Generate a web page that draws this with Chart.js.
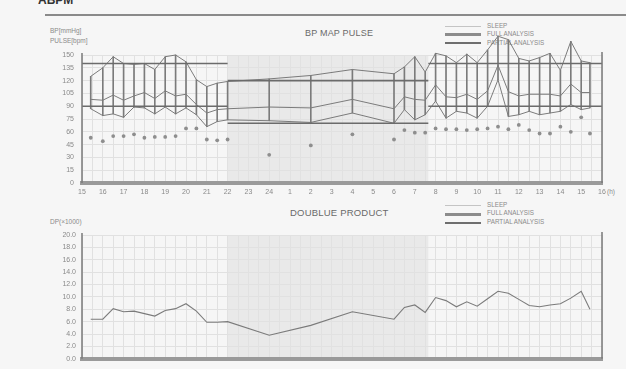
<!DOCTYPE html>
<html>
<head>
<meta charset="utf-8">
<script src="https://cdn.jsdelivr.net/npm/chart.js@4.4.1/dist/chart.umd.min.js"></script>
<style>
  html, body { margin: 0; padding: 0; }
  body {
    width: 626px; height: 369px; position: relative; overflow: hidden;
    background: #f6f6f6; color: #707070;
    font-family: "Liberation Sans", Arial, sans-serif;
  }
  canvas { position: absolute; left: 0; }
  #bpChart { top: 0; }
  #dpChart { top: 200px; }
  .txt { position: absolute; white-space: nowrap; line-height: 1; }
  .rule { position: absolute; }
  .head { font-weight: bold; color: #333; font-size: 12px; }
  .title { font-size: 9px; color: #6a6a6a; letter-spacing: 0.2px; }
  .unit { font-size: 6.5px; color: #8a8a8a; }
  .leg { font-size: 6.3px; color: #8a8a8a; }
</style>
</head>
<body>
<div class="txt head" style="left:38px; top:-6px;">ABPM</div>
<div class="rule" style="left:45px; top:14px; width:581px; height:1.5px; background:#8a8a8a;"></div>

<div class="txt unit" style="left:50px; top:28px;">BP[mmHg]</div>
<div class="txt unit" style="left:50px; top:38px;">PULSE[bpm]</div>
<div class="txt title" style="left:305px; top:29px;">BP MAP PULSE</div>

<div class="rule" style="left:445px; top:26px; width:36px; height:1px; background:#c4c4c4;"></div>
<div class="rule" style="left:445px; top:33px; width:36px; height:2.5px; background:#8c8c8c;"></div>
<div class="rule" style="left:445px; top:41.5px; width:36px; height:2px; background:#6e6e6e;"></div>
<div class="txt leg" style="left:487px; top:23px;">SLEEP</div>
<div class="txt leg" style="left:487px; top:31px;">FULL ANALYSIS</div>
<div class="txt leg" style="left:487px; top:39.5px;">PARTIAL ANALYSIS</div>
<div class="txt unit" style="left:607px; top:189px;">(h)</div>

<div class="txt unit" style="left:50px; top:219px;">DP(×1000)</div>
<div class="txt title" style="left:290px; top:208px; font-size:9.5px;">DOUBLUE PRODUCT</div>
<div class="rule" style="left:445px; top:205px; width:36px; height:1px; background:#c4c4c4;"></div>
<div class="rule" style="left:445px; top:213px; width:36px; height:2.5px; background:#8c8c8c;"></div>
<div class="rule" style="left:445px; top:221.5px; width:36px; height:2px; background:#6e6e6e;"></div>
<div class="txt leg" style="left:487px; top:202px;">SLEEP</div>
<div class="txt leg" style="left:487px; top:210px;">FULL ANALYSIS</div>
<div class="txt leg" style="left:487px; top:218.5px;">PARTIAL ANALYSIS</div>

<canvas id="bpChart" width="626" height="200"></canvas>
<canvas id="dpChart" width="626" height="169"></canvas>

<script>
// Measurement times in hours from midnight of the first day (values past 24 are the next day).
const times = [
  15.42, 16, 16.5, 17, 17.5, 18, 18.5, 19, 19.5, 20, 20.5, 21, 21.5, 22,
  24, 26, 28, 30, 30.5, 31, 31.5,
  32, 32.5, 33, 33.5, 34, 34.5, 35, 35.5, 36, 36.5, 37, 37.5, 38, 38.5, 39, 39.42
];
const systolic = [
  125, 135, 148, 140, 139, 140, 133, 148, 150, 142, 121, 113, 117, 119,
  122, 126, 133, 128, 136, 148, 130,
  152, 149, 141, 151, 141, 156, 172, 168, 146, 143, 147, 152, 132, 166, 143, 141
];
const meanArterial = [
  98, 97, 103, 97, 102, 106, 99, 108, 102, 104, 92, 82, 86, 87,
  89, 88, 98, 87, 101, 98, 97,
  115, 101, 100, 104, 98, 108, 138, 107, 102, 104, 104, 104, 102, 116, 106, 106
];
const diastolic = [
  87, 79, 81, 77, 89, 88, 81, 89, 81, 88, 80, 66, 72, 74,
  73, 71, 82, 70, 86, 74, 80,
  96, 76, 84, 82, 76, 90, 121, 78, 80, 84, 80, 82, 84, 92, 86, 88
];
const pulse = [
  53, 49, 55, 55, 57, 53, 54, 54, 55, 64, 64, 51, 50, 51,
  33, 44, 57, 51, 62, 59, 59,
  64, 63, 63, 62, 63, 64, 66, 63, 68, 62, 58, 58, 66, 60, 77, 58
];
const doubleProduct = [
  6.4, 6.4, 8.1, 7.6, 7.7, 7.3, 6.9, 7.8, 8.1, 8.9, 7.7, 5.9, 5.9, 6.0,
  3.8, 5.4, 7.6, 6.4, 8.3, 8.7, 7.5,
  9.9, 9.4, 8.4, 9.2, 8.5, 9.7, 10.9, 10.6, 9.6, 8.6, 8.4, 8.7, 8.9, 9.8, 10.9, 8.0
];

// Sleep period and the day / night limit lines.
const sleepStart = 22;
const sleepEnd = 31.65;
const limitSpans = [[15, sleepStart], [sleepStart, sleepEnd], [sleepEnd, 40]];
const systolicLimits = [140, 120, 140];
const diastolicLimits = [90, 70, 90];

// Hour axis: 15 .. 24, 1 .. 16
const hourStart = 15, hourEnd = 40;
const hourLabel = v => Number.isInteger(v) ? String(((v - 1) % 24) + 1) : '';

const GRID = '#e1e1e1';
const LINE = '#7b7b7b';

const sleepBand = {
  id: 'sleepBand',
  beforeDraw(chart) {
    const { ctx, chartArea: a, scales: { x } } = chart;
    ctx.save();
    ctx.fillStyle = '#e9e9e9';
    const x0 = x.getPixelForValue(sleepStart), x1 = x.getPixelForValue(sleepEnd);
    ctx.fillRect(x0, a.top, x1 - x0, a.bottom - a.top);
    ctx.restore();
  }
};
const sideFrame = {
  id: 'sideFrame',
  afterDraw(chart) {
    const { ctx, chartArea: a } = chart;
    ctx.save();
    ctx.strokeStyle = '#7a7a7a';
    ctx.lineWidth = 1.5;
    ctx.beginPath();
    ctx.moveTo(a.right, a.top - 3);
    ctx.lineTo(a.right, a.bottom);
    ctx.moveTo(a.left, a.top - 2);
    ctx.lineTo(a.left, a.bottom);
    ctx.stroke();
    ctx.restore();
  }
};

function xScale(showLabels) {
  return {
    type: 'linear', min: hourStart, max: hourEnd, offset: false,
    afterFit: s => { s.height = showLabels ? 14 : 0; },
    grid: { color: GRID, lineWidth: 1, drawTicks: false, offset: false },
    border: { display: true, color: '#9a9a9a', width: 4 },
    ticks: {
      display: showLabels, stepSize: 0.5, autoSkip: false, maxRotation: 0,
      padding: 5, color: '#8a8a8a', font: { size: 7, family: 'Liberation Sans' },
      callback: hourLabel
    }
  };
}

const pts = ys => times.map((t, i) => ({ x: t, y: ys[i] }));
const limitSets = [];
limitSpans.forEach((span, i) => {
  [systolicLimits[i], diastolicLimits[i]].forEach(v => {
    limitSets.push({
      type: 'line', data: [{ x: span[0], y: v }, { x: span[1], y: v }],
      borderColor: '#6b6b6b', borderWidth: 1.6, pointRadius: 0, order: 1
    });
  });
});

const common = {
  responsive: false, animation: false, devicePixelRatio: 1,
  plugins: { legend: { display: false }, tooltip: { enabled: false } }
};

new Chart(document.getElementById('bpChart'), {
  type: 'line',
  data: {
    datasets: [
      {
        type: 'bar', data: times.map((t, i) => ({ x: t, y: [diastolic[i], systolic[i]] })),
        backgroundColor: LINE, barThickness: 1, borderWidth: 0, grouped: false, clip: false, order: 3
      },
      { data: pts(systolic), borderColor: LINE, borderWidth: 1, pointRadius: 0, clip: false, order: 2 },
      { data: pts(meanArterial), borderColor: LINE, borderWidth: 1, pointRadius: 0, clip: false, order: 2 },
      { data: pts(diastolic), borderColor: LINE, borderWidth: 1, pointRadius: 0, clip: false, order: 2 },
      ...limitSets,
      {
        data: pts(pulse), showLine: false, pointRadius: 1.9, pointBorderWidth: 0,
        pointBackgroundColor: '#8e8e8e', order: 0
      }
    ]
  },
  options: {
    ...common,
    layout: { padding: { left: 42, right: 24, top: 55, bottom: 3 } },
    scales: {
      x: xScale(true),
      y: {
        min: 0, max: 150,
        afterFit: s => { s.width = 40; },
        grid: { color: GRID, drawTicks: false },
        border: { display: false },
        ticks: { stepSize: 15, padding: 8, color: '#8a8a8a', font: { size: 7, family: 'Liberation Sans' } }
      }
    }
  },
  plugins: [sleepBand, sideFrame]
});

new Chart(document.getElementById('dpChart'), {
  type: 'line',
  data: {
    datasets: [
      { data: pts(doubleProduct), borderColor: LINE, borderWidth: 1.1, pointRadius: 0 }
    ]
  },
  options: {
    ...common,
    layout: { padding: { left: 42, right: 24, top: 35, bottom: 6 } },
    scales: {
      x: xScale(false),
      y: {
        min: 0, max: 20,
        afterFit: s => { s.width = 40; },
        grid: { color: GRID, drawTicks: false },
        border: { display: false },
        ticks: {
          stepSize: 2, padding: 6, color: '#8a8a8a', font: { size: 7, family: 'Liberation Sans' },
          callback: v => v.toFixed(1)
        }
      }
    }
  },
  plugins: [sleepBand, sideFrame]
});
</script>
</body>
</html>
